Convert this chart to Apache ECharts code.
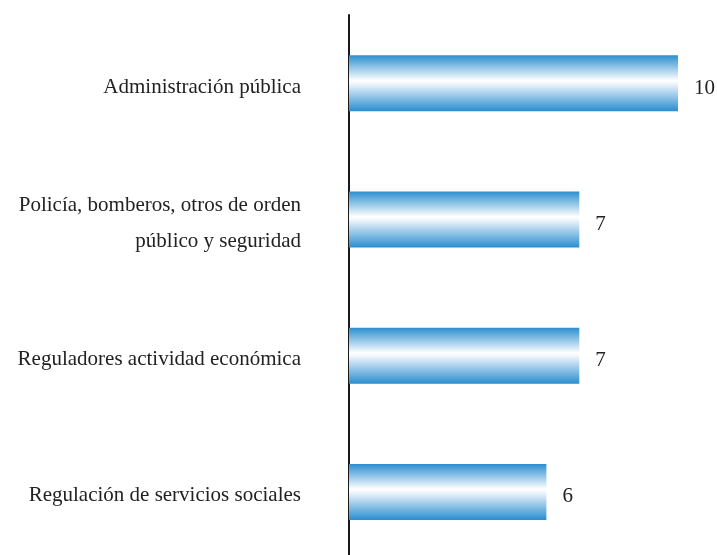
<!DOCTYPE html>
<html><head><meta charset="utf-8">
<script src="https://cdn.jsdelivr.net/npm/echarts@6/dist/echarts.min.js"></script>
<style>html,body{margin:0;padding:0;background:#fff}#c{width:717px;height:555px}</style>
</head><body><div id="c"></div>
<script>
const categories = ["Administración pública", "Policía, bomberos, otros de orden\npúblico y seguridad", "Reguladores actividad económica", "Regulación de servicios sociales"];
const values = [10, 7, 7, 6];

const chart = echarts.init(document.getElementById('c'), null, {renderer: 'canvas'});
const grad = new echarts.graphic.LinearGradient(0, 0, 0, 1, [
  {offset: 0, color: '#2a8ed0'},
  {offset: 0.45, color: '#ffffff'},
  {offset: 0.5, color: '#f4f8fd'},
  {offset: 1, color: '#2a8ed0'}
]);
const txt = {fontFamily: 'Liberation Serif', fontSize: 21, color: '#222'};
chart.setOption({
  animation: false,
  grid: {left: 349, width: 329, top: 15, height: 545, containLabel: false, outerBoundsMode: 'none'},
  xAxis: {type: 'value', min: 0, max: 10, show: false},
  yAxis: {
    type: 'category', data: categories, inverse: true,
    axisLine: {lineStyle: {color: '#1a1a1a', width: 2}},
    axisTick: {show: false},
    axisLabel: Object.assign({
      margin: 48, align: 'right',
      formatter: v => v.split('\n').map(s => '{a|' + s + '}').join('\n'),
      rich: {a: Object.assign({lineHeight: 36, padding: [8, 0, 0, 0], align: 'right'}, txt)}
    }, txt)
  },
  series: [{
    type: 'bar', data: values, barWidth: 56,
    itemStyle: {color: grad},
    label: Object.assign({show: true, position: 'right', distance: 16, offset: [0, 5]}, txt)
  }]
});
</script></body></html>
